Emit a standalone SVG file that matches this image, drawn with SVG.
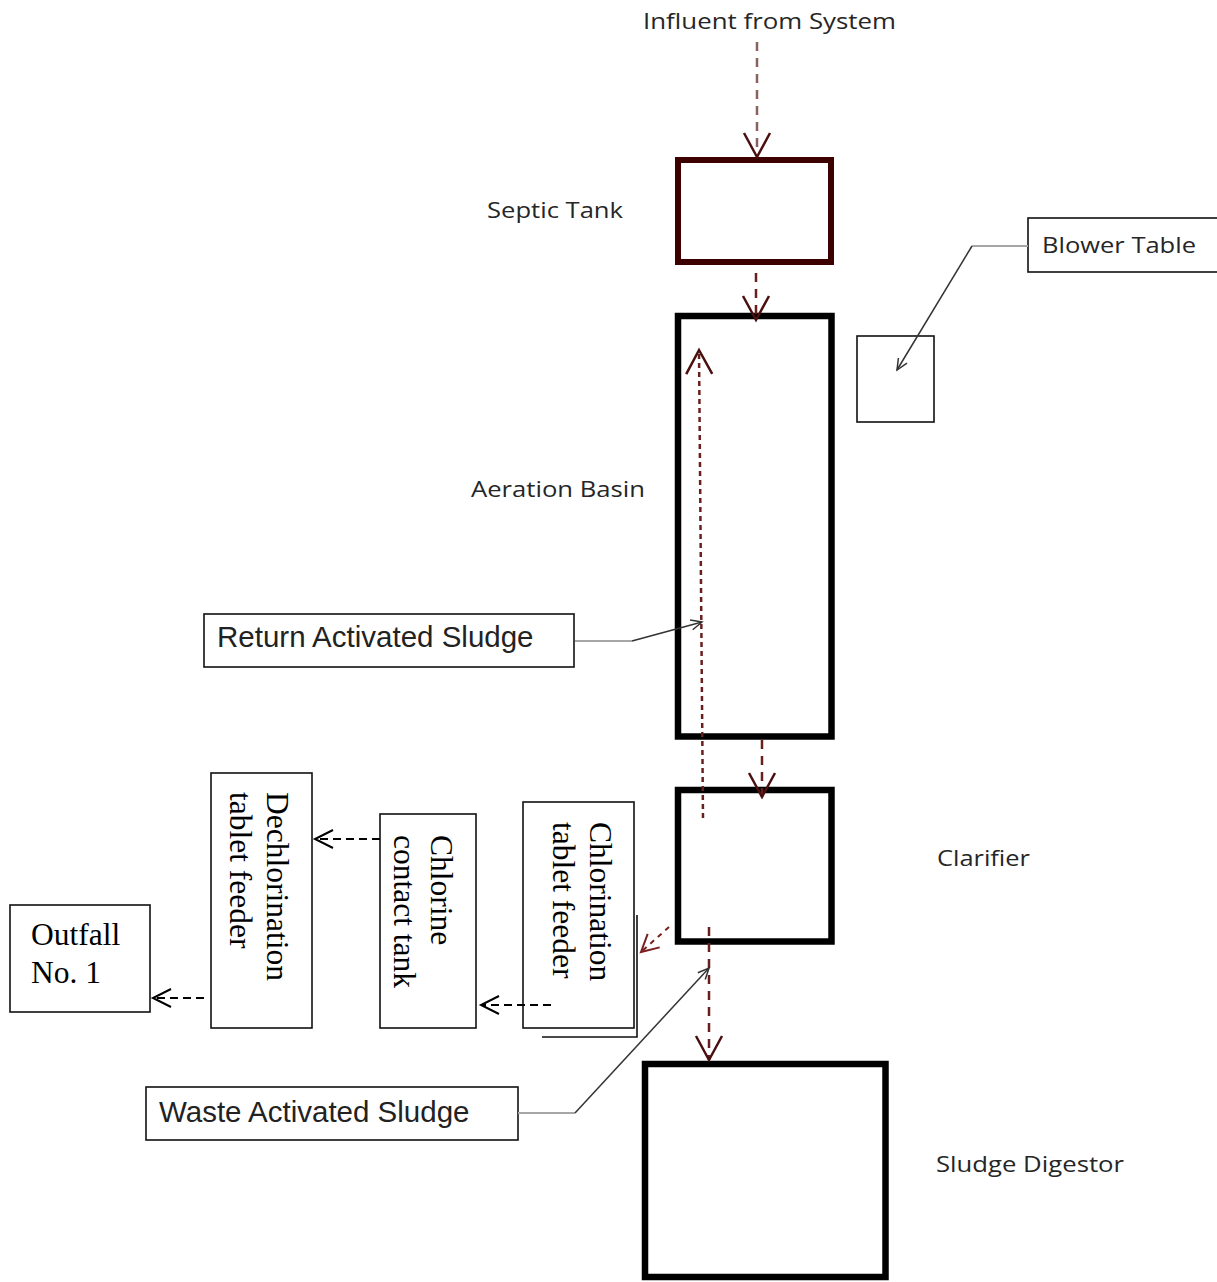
<svg xmlns="http://www.w3.org/2000/svg" width="1217" height="1282" viewBox="0 0 1217 1282">
<style>
.cal{font-family:"Open Sans","Noto Sans",sans-serif;font-size:22.5px;fill:#262626}
.ari{font-family:"Liberation Sans",Arial,sans-serif;font-size:29.5px;fill:#222}
.tim{font-family:"Liberation Serif","Times New Roman",serif;font-size:31.5px;fill:#000}
.thick{fill:none;stroke:#000;stroke-width:6.5}
.thin{fill:#fff;stroke:#111;stroke-width:1.6}
.mflow{fill:none;stroke:#6a1f1f;stroke-width:2.5;stroke-dasharray:9 7}
.bflow{fill:none;stroke:#000;stroke-width:2;stroke-dasharray:8 5}
.gray{fill:none;stroke:#a6a6a6;stroke-width:2}
.lead{fill:none;stroke:#333;stroke-width:1.5}
</style>
<defs>
<marker id="mv" markerUnits="userSpaceOnUse" orient="auto" refX="0" refY="0" markerWidth="30" markerHeight="30" overflow="visible">
<path d="M -24 -13 L 0 0 L -24 13" fill="none" stroke="#4a0f0f" stroke-width="2.5"/>
</marker>
<marker id="mvs" markerUnits="userSpaceOnUse" orient="auto" refX="0" refY="0" markerWidth="30" markerHeight="30" overflow="visible">
<path d="M -17 -9 L 0 0 L -17 9" fill="none" stroke="#7a1f1f" stroke-width="2"/>
</marker>
<marker id="bv" markerUnits="userSpaceOnUse" orient="auto" refX="0" refY="0" markerWidth="30" markerHeight="30" overflow="visible">
<path d="M -18 -9 L 0 0 L -18 9" fill="none" stroke="#000" stroke-width="2"/>
</marker>
<marker id="lv" markerUnits="userSpaceOnUse" orient="auto" refX="0" refY="0" markerWidth="20" markerHeight="20" overflow="visible">
<path d="M -11 -5 L 0 0 L -11 5" fill="none" stroke="#333" stroke-width="1.5"/>
</marker>
</defs>

<g id="influent">
<text class="cal" x="643" y="29" textLength="253" lengthAdjust="spacingAndGlyphs">Influent from System</text>
</g>

<g id="septic-tank">
<rect x="678" y="160" width="153" height="102" fill="none" stroke="#3d0000" stroke-width="6"/>
<text class="cal" x="487" y="218" textLength="136" lengthAdjust="spacingAndGlyphs">Septic Tank</text>
</g>

<g id="aeration-basin">
<rect x="678" y="316" width="153.5" height="420.5" class="thick"/>
<text class="cal" x="471" y="497" textLength="174" lengthAdjust="spacingAndGlyphs">Aeration Basin</text>
</g>

<g id="blower">
<rect x="857" y="336" width="77" height="86" style="fill:none;stroke:#111;stroke-width:1.6"/>
</g>

<g id="blower-table">
<rect x="1028" y="218" width="195" height="54" class="thin"/>
<text class="cal" x="1042" y="253" textLength="154" lengthAdjust="spacingAndGlyphs">Blower Table</text>
</g>

<g id="return-activated-sludge">
<rect x="204" y="614" width="370" height="53" class="thin"/>
<text class="ari" x="217" y="647">Return Activated Sludge</text>
</g>

<g id="clarifier">
<rect x="678" y="790" width="153.5" height="151.5" class="thick"/>
<text class="cal" x="937" y="866" textLength="93" lengthAdjust="spacingAndGlyphs">Clarifier</text>
</g>

<g id="sludge-digestor">
<rect x="645" y="1064" width="240.5" height="213" class="thick"/>
<text class="cal" x="936" y="1172" textLength="188" lengthAdjust="spacingAndGlyphs">Sludge Digestor</text>
</g>

<g id="waste-activated-sludge">
<rect x="146" y="1087" width="372" height="53" class="thin"/>
<text class="ari" x="159" y="1122">Waste Activated Sludge</text>
</g>

<g id="chlorination-tablet-feeder">
<polyline points="542,1037 637,1037 637,915" fill="none" stroke="#111" stroke-width="1.6"/>
<rect x="523" y="802" width="111" height="226" class="thin"/>
<text class="tim" transform="translate(590,822) rotate(90)"><tspan x="0" y="0">Chlorination</tspan><tspan x="0" dy="37">tablet feeder</tspan></text>
</g>

<g id="chlorine-contact-tank">
<rect x="380" y="814" width="96" height="214" class="thin"/>
<text class="tim" transform="translate(431,835) rotate(90)"><tspan x="0" y="0">Chlorine</tspan><tspan x="0" dy="37">contact tank</tspan></text>
</g>

<g id="dechlorination-tablet-feeder">
<rect x="211" y="773" width="101" height="255" class="thin"/>
<text class="tim" transform="translate(267,792) rotate(90)"><tspan x="0" y="0">Dechlorination</tspan><tspan x="0" dy="37">tablet feeder</tspan></text>
</g>

<g id="outfall">
<rect x="10" y="905" width="140" height="107" class="thin"/>
<text class="tim" x="31" y="945">Outfall</text>
<text class="tim" x="31" y="983">No. 1</text>
</g>

<g id="connectors">
<line x1="757" y1="42" x2="757" y2="157" fill="none" stroke="#8a6262" stroke-width="2.5" stroke-dasharray="9 7" marker-end="url(#mv)"/>
<line x1="756" y1="273" x2="756" y2="320" class="mflow" marker-end="url(#mv)"/>
<line x1="762" y1="740" x2="762" y2="797" class="mflow" marker-end="url(#mv)"/>
<line x1="703" y1="818" x2="699" y2="350" fill="none" stroke="#6a1f1f" stroke-width="2.5" stroke-dasharray="5 4" marker-end="url(#mv)"/>
<line x1="709" y1="927" x2="709" y2="1060" class="mflow" marker-end="url(#mv)"/>
<line x1="669" y1="927" x2="641" y2="952" fill="none" stroke="#7a1f1f" stroke-width="2" stroke-dasharray="5 5" marker-end="url(#mvs)"/>
<line x1="551" y1="1005" x2="481" y2="1005" class="bflow" marker-end="url(#bv)"/>
<line x1="380" y1="839" x2="315" y2="839" class="bflow" marker-end="url(#bv)"/>
<line x1="204" y1="998" x2="153" y2="998" class="bflow" marker-end="url(#bv)"/>
<polyline points="1028,246 972,246" class="gray"/>
<line x1="972" y1="246" x2="897" y2="370" class="lead" marker-end="url(#lv)"/>
<polyline points="575,641 632,641" class="gray"/>
<line x1="632" y1="641" x2="702" y2="622" class="lead" marker-end="url(#lv)"/>
<polyline points="518,1113 575,1113" class="gray"/>
<line x1="575" y1="1113" x2="709" y2="968" class="lead" marker-end="url(#lv)"/>
</g>
</svg>
